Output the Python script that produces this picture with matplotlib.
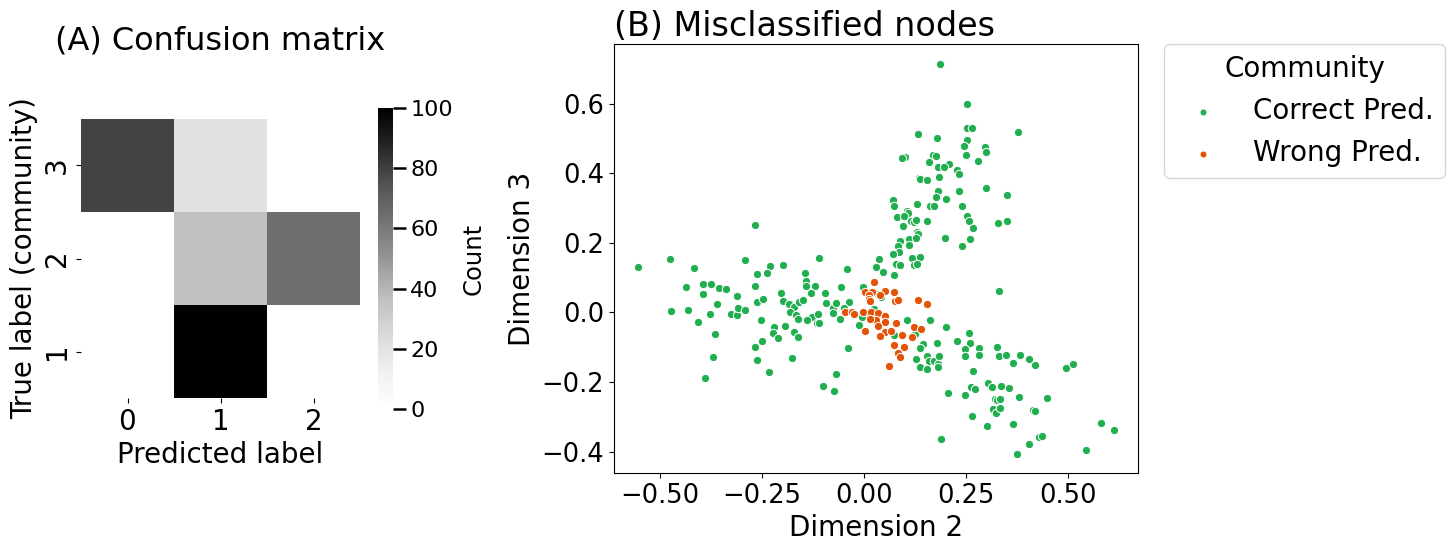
import matplotlib
matplotlib.use("Agg")
import matplotlib.pyplot as plt
import numpy as np
import seaborn as sns

# ---------------- data ----------------
cm_values = [[79, 21, 0],
             [0, 36, 64],
             [0, 100, 0]]
pred_labels = ["0", "1", "2"]
true_labels = ["3", "2", "1"]

correct_x = [
    0.187, 0.253, 0.251, 0.265, 0.378, 0.133, 0.178, 0.251, 0.245, 0.297, 0.299, 0.099, 0.092,
    0.169, 0.177, 0.250, 0.278, 0.160, 0.209, 0.182, 0.195, 0.228, 0.232, 0.134, 0.137, 0.155,
    0.184, 0.299, 0.232, 0.182, 0.349, 0.175, 0.200, 0.071, 0.073, 0.130, 0.161, 0.172, 0.241,
    0.106, 0.108, 0.081, 0.098, 0.252, 0.257, 0.115, 0.121, 0.126, 0.155, 0.095, 0.329, 0.349,
    0.267, 0.129, 0.133, 0.198, 0.259, 0.110, 0.128, 0.089, 0.084, 0.086, 0.109, 0.240, 0.070,
    -0.267,
    -0.555, -0.476, -0.417, -0.292, -0.232, -0.263, -0.239, -0.200, -0.110, -0.145, -0.143,
    -0.143, -0.120, -0.437, -0.396, -0.376, -0.356, -0.339, -0.394, -0.313, -0.268, -0.205,
    -0.204, -0.130, -0.096, -0.262, -0.248, -0.198, -0.360, -0.474, -0.433, -0.377, -0.407,
    -0.326, -0.311, -0.309, -0.291, -0.184, -0.173, -0.161, -0.151, -0.093, -0.076, -0.077,
    -0.183, -0.168, -0.163, -0.129, -0.139, -0.113, -0.115, -0.111, -0.252, -0.194, -0.221,
    -0.224, -0.212, -0.171, -0.163, -0.250, -0.268, -0.365, -0.371, -0.263, -0.176, -0.234,
    -0.070, -0.390, -0.102, -0.074,
    -0.043, 0.029, 0.047, 0.074, -0.058, -0.002, 0.035, 0.042, -0.037, -0.070, -0.050, -0.007,
    -0.006, -0.012, 0.011, 0.023, -0.059, 0.105, 0.162, 0.073, 0.125, 0.144, -0.040, 0.137,
    0.036, 0.117, 0.137, 0.077, 0.089, 0.122, 0.129, 0.331, 0.178, 0.201, 0.256, 0.227, 0.260,
    0.246, 0.282, 0.248, 0.282, 0.325, 0.331, 0.348, 0.382, 0.404, 0.365, 0.419, 0.128, 0.155,
    0.160, 0.170, 0.184, 0.182, 0.182, 0.137, 0.154, 0.267, 0.496, 0.512, 0.304, 0.313, 0.335,
    0.355, 0.261, 0.271, 0.205, 0.248, 0.322, 0.326, 0.334, 0.379, 0.448, 0.315, 0.323, 0.334,
    0.414, 0.420, 0.265, 0.301, 0.365, 0.580, 0.613, 0.188, 0.428, 0.436, 0.403, 0.375, 0.545,
]
correct_y = [
    0.715, 0.598, 0.531, 0.531, 0.518, 0.512, 0.501, 0.495, 0.479, 0.474, 0.462, 0.447, 0.443,
    0.453, 0.449, 0.452, 0.436, 0.433, 0.426, 0.418, 0.418, 0.409, 0.399, 0.386, 0.384, 0.380,
    0.390, 0.358, 0.350, 0.348, 0.338, 0.331, 0.326, 0.324, 0.306, 0.312, 0.305, 0.307, 0.306,
    0.292, 0.286, 0.275, 0.276, 0.276, 0.264, 0.263, 0.260, 0.266, 0.264, 0.249, 0.257, 0.262,
    0.243, 0.231, 0.224, 0.213, 0.212, 0.212, 0.213, 0.205, 0.190, 0.175, 0.193, 0.191, 0.168,
    0.252,
    0.130, 0.154, 0.129, 0.151, 0.134, 0.111, 0.114, 0.137, 0.156, 0.112, 0.090,
    0.075, 0.075, 0.074, 0.082, 0.082, 0.071, 0.068, 0.053, 0.047, 0.076, 0.059,
    0.055, 0.055, 0.057, 0.031, 0.040, 0.034, 0.024, 0.005, 0.006, -0.003, -0.028,
    -0.004, -0.006, 0.013, 0.006, 0.025, 0.017, 0.031, 0.037, 0.027, 0.013, -0.001,
    0.002, -0.006, -0.018, -0.014, -0.023, -0.003, -0.030, -0.030, -0.021, -0.038, -0.043,
    -0.058, -0.073, -0.057, -0.070, -0.081, -0.100, -0.063, -0.127, -0.136, -0.131, -0.171,
    -0.176, -0.187, -0.212, -0.225,
    0.124, 0.130, 0.116, 0.108, 0.074, 0.073, 0.053, 0.044, 0.029, 0.028, 0.012, -0.007,
    -0.014, -0.036, -0.002, 0.010, -0.019, -0.023, -0.023, -0.066, -0.062, -0.090, -0.103, -0.103,
    0.154, 0.157, 0.159, 0.139, 0.137, 0.135, 0.138, 0.062, -0.089, -0.042, -0.058, -0.082, -0.088,
    -0.104, -0.102, -0.125, -0.122, -0.098, -0.124, -0.123, -0.122, -0.135, -0.146, -0.152, -0.135, -0.124,
    -0.139, -0.138, -0.124, -0.149, -0.158, -0.158, -0.162, -0.168, -0.160, -0.147, -0.203, -0.213, -0.212,
    -0.217, -0.215, -0.219, -0.232, -0.238, -0.248, -0.251, -0.248, -0.244, -0.245, -0.278, -0.290, -0.273,
    -0.281, -0.283, -0.296, -0.327, -0.321, -0.317, -0.337, -0.363, -0.358, -0.355, -0.377, -0.405, -0.395,
]

wrong_x = [
    0.023, 0.050, 0.074, 0.001, 0.019, 0.013, 0.011, 0.015, 0.038, 0.076, 0.084, 0.132, 0.154,
    -0.047, -0.030, -0.026, -0.002, 0.016, 0.034, 0.029, 0.015, 0.052, 0.052, 0.034, 0.078,
    0.002, 0.050, 0.066, 0.092, 0.039, 0.072, 0.097, 0.121, 0.140, 0.117,
    0.084, 0.087, 0.060,
]
wrong_y = [
    0.087, 0.063, 0.060, 0.060, 0.058, 0.049, 0.039, 0.034, 0.049, 0.034, 0.036, 0.037, 0.023,
    0.001, 0.001, -0.004, 0.001, 0.001, -0.002, -0.023, -0.019, -0.009, -0.028, -0.040, -0.031,
    -0.052, -0.055, -0.053, -0.066, -0.068, -0.093, -0.100, -0.041, -0.047, -0.071,
    -0.116, -0.127, -0.154,
]

series_names = ["Correct Pred.", "Wrong Pred."]
series_colors = ["#20ae4f", "#e25307"]

# ---------------- figure ----------------
W, H = 1454, 554
fig = plt.figure(figsize=(W / 100, H / 100), dpi=100)


def px_axes(x0, y0, x1, y1):
    return fig.add_axes([x0 / W, (H - y1) / H, (x1 - x0) / W, (y1 - y0) / H])


ax1 = px_axes(81, 119, 360, 398)
cax = px_axes(378, 108, 393, 409)
ax2 = px_axes(614, 44, 1138, 473)

sns.heatmap(np.array(cm_values), cmap="Greys", vmin=0, vmax=100, ax=ax1, cbar_ax=cax,
            xticklabels=pred_labels, yticklabels=true_labels, square=False)
ax1.set_xlabel("Predicted label", fontsize=20)
ax1.set_ylabel("True label (community)", fontsize=20)
ax1.tick_params(axis="both", labelsize=20)
for t in ax1.get_yticklabels():
    t.set_rotation(90)
    t.set_va("center")
ax1.set_title("(A) Confusion matrix", fontsize=23, y=1.22)
cax.tick_params(labelsize=16, length=9, width=1.8)
cax.set_ylabel("Count", fontsize=17.5, labelpad=6)

ax2.scatter(correct_x, correct_y, s=36, c=series_colors[0], edgecolors="white",
            linewidths=0.75, label=series_names[0])
ax2.scatter(wrong_x, wrong_y, s=36, c=series_colors[1], edgecolors="white",
            linewidths=0.75, label=series_names[1])
ax2.set_xticks([-0.5, -0.25, 0.0, 0.25, 0.5])
ax2.set_xticklabels(["\u22120.50", "\u22120.25", "0.00", "0.25", "0.50"])
ax2.set_yticks([-0.4, -0.2, 0.0, 0.2, 0.4, 0.6])
ax2.set_yticklabels(["\u22120.4", "\u22120.2", "0.0", "0.2", "0.4", "0.6"])
ax2.tick_params(axis="both", labelsize=18.5)
ax2.set_xlabel("Dimension 2", fontsize=20)
ax2.set_ylabel("Dimension 3", fontsize=20)
ax2.set_title("(B) Misclassified nodes", fontsize=24, loc="left")
leg = ax2.legend(title="Community", fontsize=20, title_fontsize=20, loc="upper left",
                 bbox_to_anchor=(1.05, 1), borderaxespad=0, markerscale=0.85)

fig.savefig("out.png", dpi=100)
